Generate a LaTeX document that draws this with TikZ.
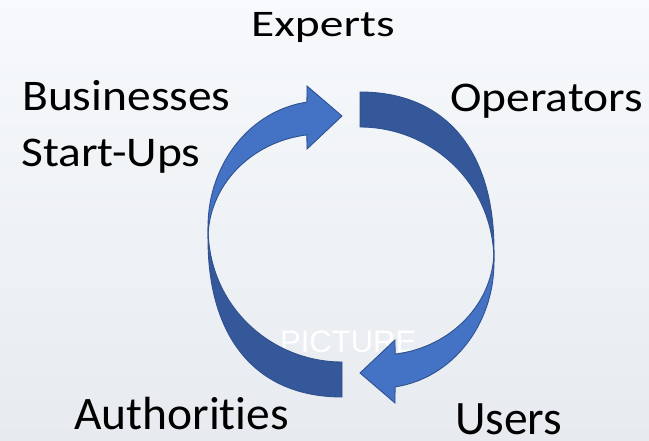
\documentclass[tikz,border=0pt]{standalone}
\usepackage{fontspec}
\setmainfont[Ligatures=NoCommon]{Carlito}
\newfontfamily\markfont{Liberation Sans}

\definecolor{frontblue}{HTML}{4472C4}
\definecolor{backblue}{HTML}{345899}
\definecolor{rimblue}{HTML}{2F528F}
\definecolor{bgtop}{HTML}{F7F9FC}
\definecolor{bgbottom}{HTML}{E7EBEF}

\tikzset{
  turnarrow/.pic={
    \filldraw[backside] (9,152.5) .. controls (94,152.5) and (143,94.5) .. (143,-5.5)
      -- (143,-17.5) .. controls (143,62.5) and (79,117.5) .. (9,117.5) -- cycle;
    \filldraw[frontside] (143,-17.5) arc[start angle=0,end angle=-82.4,x radius=114,y radius=126]
      -- (44,-158.5) -- (9,-128.5) -- (44,-95.5) -- (44.1,-109.6)
      arc[start angle=-82.4,end angle=0,x radius=114,y radius=105] -- cycle;
  }
}

\begin{document}
\begin{tikzpicture}[x=1pt,y=1pt,
  backside/.style={fill=backblue, draw=rimblue, line width=0.9pt},
  frontside/.style={fill=frontblue, draw=rimblue, line width=0.9pt},
  lbl/.style={anchor=base west, inner sep=0pt, text depth=0pt, font=\fontsize{47.5}{56}\selectfont}]
\shade[top color=bgtop, bottom color=bgbottom] (0,0) rectangle (649,441);
\useasboundingbox (0,0) rectangle (649,441);
\node[anchor=base west, inner sep=0pt, text=white, font=\markfont\fontsize{31}{36}\selectfont] (mark) at (280,88) {PICTURE};
\pic at (351,196.5) {turnarrow};
\pic[rotate=180] at (351,196.5) {turnarrow};
\node[lbl, yscale=.79] (experts) at (251,404) {Experts};
\node[lbl, yscale=.92] (business) at (22,330) {Businesses};
\node[lbl, yscale=.89] (startups) at (21,274) {Start-Ups};
\node[lbl, yscale=.89] (operators) at (450,329) {Operators};
\node[lbl, yscale=.98] (authorities) at (74,11) {Authorities};
\node[lbl, yscale=1.01] (users) at (455,6) {Users};
\end{tikzpicture}
\end{document}
